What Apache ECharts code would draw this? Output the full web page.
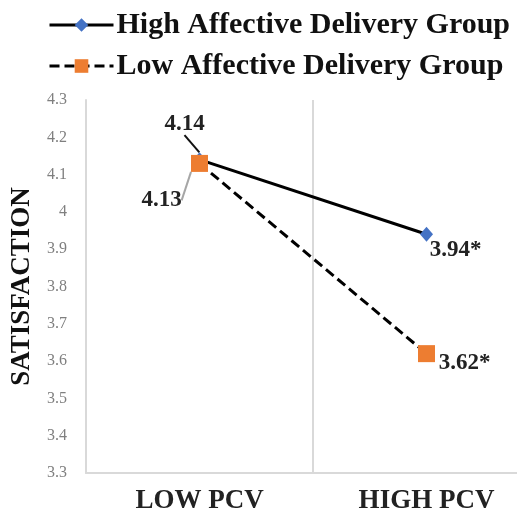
<!DOCTYPE html>
<html>
<head>
<meta charset="utf-8">
<script src="https://cdn.jsdelivr.net/npm/echarts@6/dist/echarts.min.js"></script>
<style>
html,body{margin:0;padding:0;background:#fff;}
#chart{width:517px;height:514px;}
</style>
</head>
<body>
<div id="chart"></div>
<script>
// ---- data ----
const categories = ['LOW PCV', 'HIGH PCV'];
const seriesNames = ['High Affective Delivery Group', 'Low Affective Delivery Group'];
const highValues = [4.14, 3.94];
const lowValues = [4.13, 3.62];
const highLabels = ['4.14', '3.94*'];
const lowLabels = ['4.13', '3.62*'];
const yTicks = { min: 3.3, max: 4.3, step: 0.1 };

// ---- styling / layout (not data) ----
const FONT = '"Liberation Serif", "Times New Roman", serif';
const highLabelMove = [{ dx: -15, dy: -36, line: true, lineColor: '#111' }, { dx: 29, dy: 16, line: false }];
const lowLabelMove = [{ dx: -38, dy: 37, line: true, lineColor: '#a6a6a6' }, { dx: 38, dy: 9, line: false }];

function buildData(values, labels, moves) {
  return values.map((v, i) => ({
    value: v,
    label: { formatter: labels[i] },
    labelLine: { show: moves[i].line, lineStyle: { color: moves[i].lineColor || '#111', width: 2 } }
  }));
}

const labelStyle = {
  show: true,
  position: 'inside',
  fontFamily: FONT,
  fontWeight: 'bold',
  fontSize: 23,
  color: '#222'
};

const chart = echarts.init(document.getElementById('chart'));
chart.setOption({
  animation: false,
  backgroundColor: '#fff',
  legend: {
    orient: 'vertical',
    left: 43,
    top: 5,
    itemWidth: 64,
    itemHeight: 17,
    itemGap: 11,
    lineStyle: { width: 3 },
    textStyle: { fontFamily: FONT, fontWeight: 'bold', fontSize: 30, color: '#111', padding: [0, 0, 0, -2] },
    data: seriesNames
  },
  grid: { left: 86, width: 454, top: 100, bottom: 41, containLabel: false, outerBoundsMode: 'none' },
  xAxis: {
    type: 'category',
    data: categories,
    boundaryGap: true,
    axisLine: { lineStyle: { color: '#d9d9d9', width: 2 } },
    axisTick: { show: false },
    splitLine: { show: true, lineStyle: { color: '#d9d9d9', width: 2 } },
    axisLabel: { margin: 15, fontFamily: FONT, fontWeight: 'bold', fontSize: 27, color: '#222' }
  },
  yAxis: {
    type: 'value',
    min: yTicks.min,
    max: yTicks.max,
    interval: yTicks.step,
    name: 'SATISFACTION',
    nameLocation: 'middle',
    nameGap: 50,
    nameTextStyle: { fontFamily: FONT, fontWeight: 'bold', fontSize: 27, color: '#111' },
    axisLine: { show: true, lineStyle: { color: '#d9d9d9', width: 2 } },
    axisTick: { show: false },
    splitLine: { show: false },
    axisLabel: {
      margin: 19,
      fontFamily: FONT,
      fontSize: 16,
      color: '#7f7f7f',
      formatter: v => String(+v.toFixed(1))
    }
  },
  series: [
    {
      name: seriesNames[0],
      type: 'line',
      data: buildData(highValues, highLabels, highLabelMove),
      symbol: 'diamond',
      symbolSize: [13, 15],
      itemStyle: { color: '#4472c4' },
      lineStyle: { color: '#000', width: 3, type: 'solid' },
      label: labelStyle,
      labelLayout: p => ({ dx: highLabelMove[p.dataIndex].dx, dy: highLabelMove[p.dataIndex].dy }),
      z: 3
    },
    {
      name: seriesNames[1],
      type: 'line',
      data: buildData(lowValues, lowLabels, lowLabelMove),
      symbol: 'rect',
      symbolSize: 17,
      itemStyle: { color: '#ed7d31' },
      lineStyle: { color: '#000', width: 3, type: [10, 5] },
      label: labelStyle,
      labelLayout: p => ({ dx: lowLabelMove[p.dataIndex].dx, dy: lowLabelMove[p.dataIndex].dy }),
      z: 4
    }
  ]
});
</script>
</body>
</html>
